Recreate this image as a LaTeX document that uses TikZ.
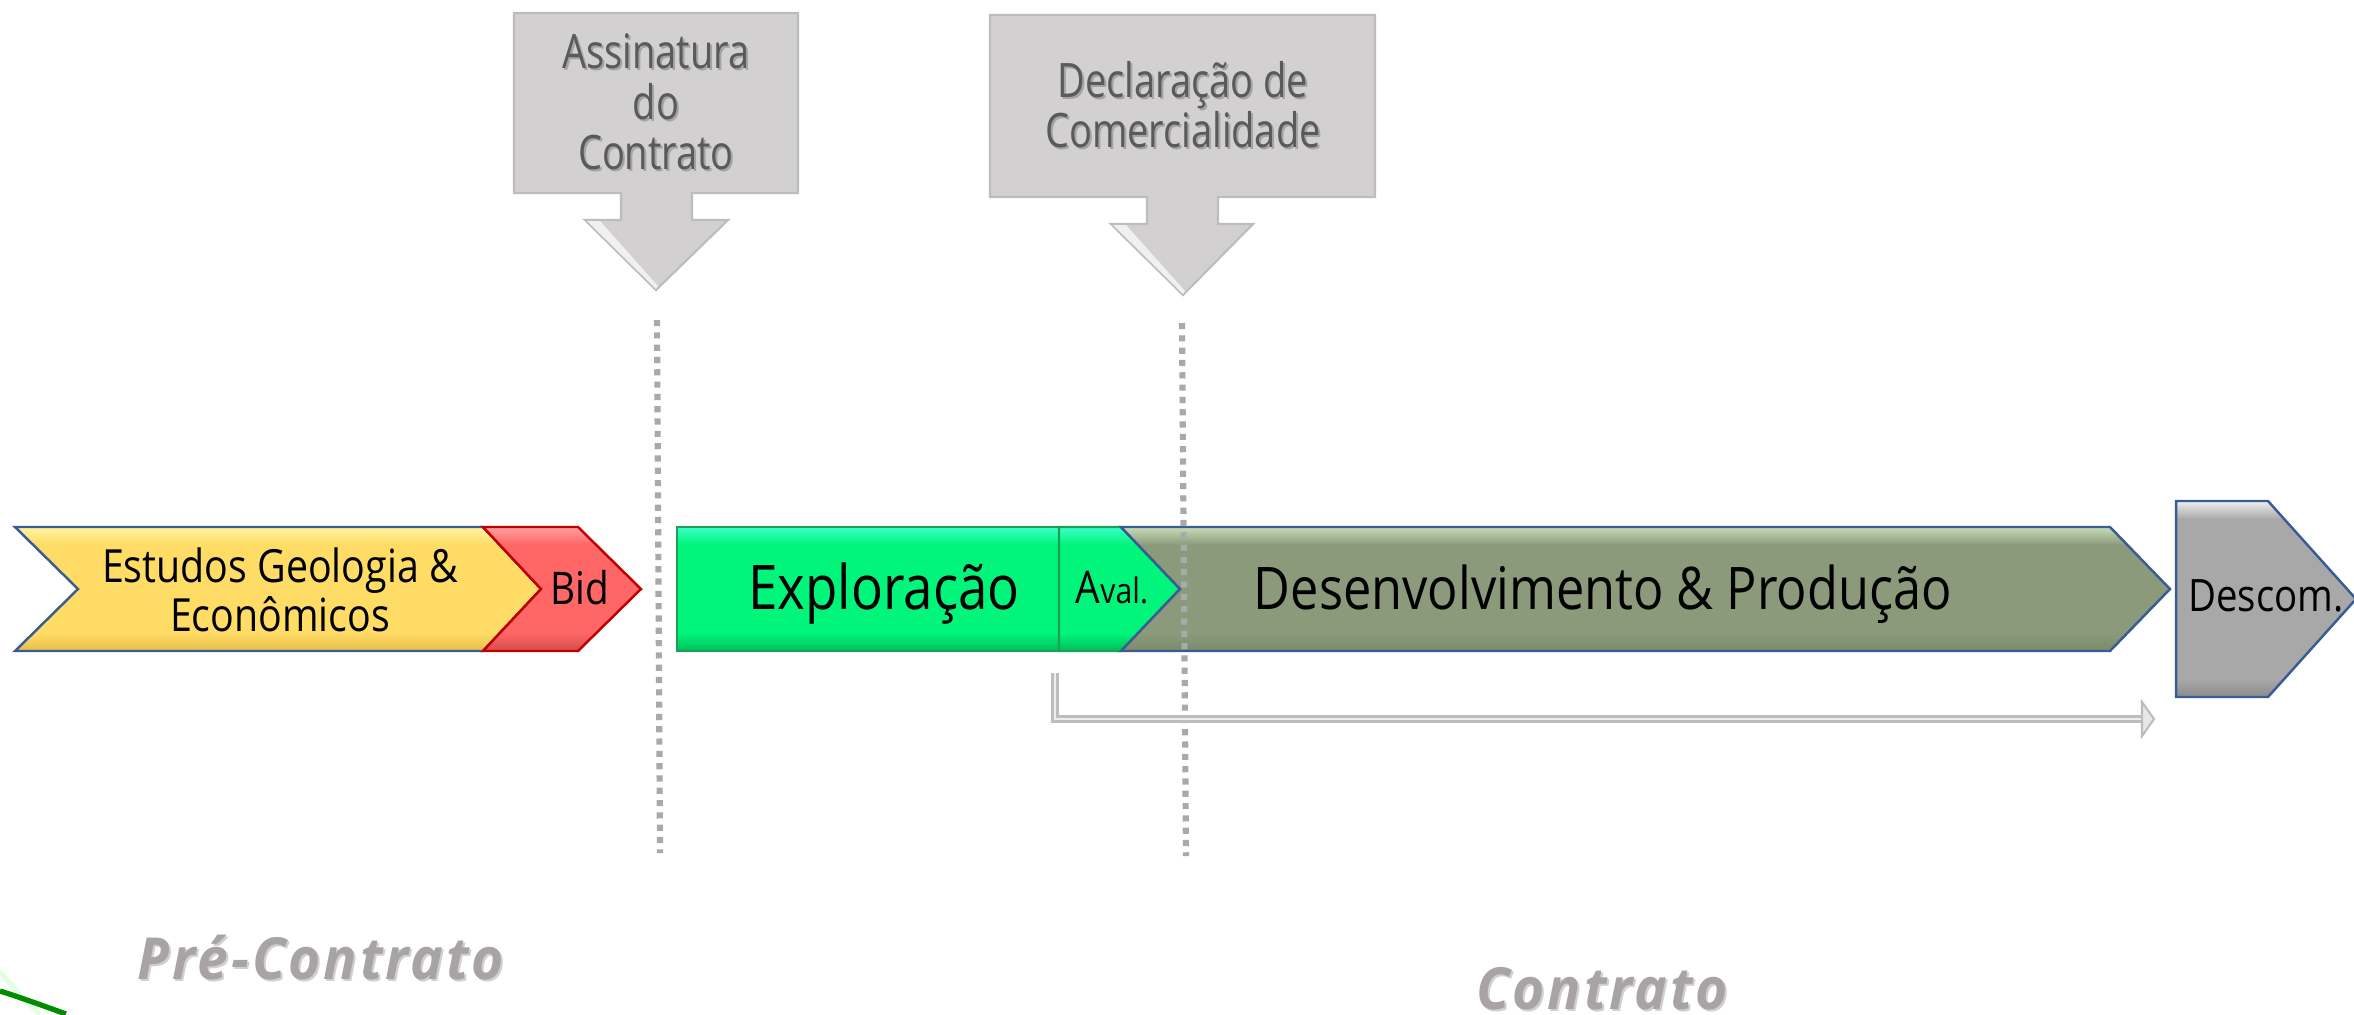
\documentclass[tikz,border=0pt]{standalone}
\usepackage{fontspec}
\setmainfont{Open Sans}
\newfontfamily\sg[FakeStretch=0.86]{Open Sans}
\newfontfamily\sgc[FakeStretch=0.8]{Open Sans}
\newfontfamily\lbl[LetterSpace=5,FakeStretch=0.95]{Open Sans}
\definecolor{yelM}{HTML}{FFDC66}
\definecolor{yelL}{HTML}{FFF3A0}
\definecolor{yelD}{HTML}{E6BE48}
\definecolor{redM}{HTML}{FF6666}
\definecolor{redL}{HTML}{FFA0A0}
\definecolor{redD}{HTML}{D64C4C}
\definecolor{redB}{HTML}{C00000}
\definecolor{grnM}{HTML}{00F57A}
\definecolor{grnL}{HTML}{3DFFC8}
\definecolor{grnD}{HTML}{00BF5C}
\definecolor{grnB}{HTML}{1F9E55}
\definecolor{olvM}{HTML}{8A9A7A}
\definecolor{olvL}{HTML}{C8DCB8}
\definecolor{olvD}{HTML}{7A8A6A}
\definecolor{bluB}{HTML}{3A5C94}
\definecolor{gryM}{HTML}{A8A8A8}
\definecolor{gryL}{HTML}{EEEEEE}
\definecolor{gryD}{HTML}{8C8C8C}
\definecolor{calF}{HTML}{D2D0D0}
\definecolor{calB}{HTML}{BDBDBD}
\definecolor{calT}{HTML}{5A5A5A}
\definecolor{calS}{HTML}{A4A4A4}
\definecolor{dotC}{HTML}{A9A9A9}
\definecolor{labT}{HTML}{A8A4A4}
\definecolor{labS}{HTML}{D0D0D0}
\newcommand\bevelpoly[7]{%
  \begin{scope}
    \clip #1;
    \fill[#2] #1;
    \shade[top color=#3,bottom color=#2] (0,#6) rectangle (2354,#6+18);
    \shade[top color=#2,bottom color=#4] (0,#7-18) rectangle (2354,#7);
  \end{scope}
  \draw[#5,line width=0.7pt,line join=miter] #1;
}
\tikzset{
  bandtxt/.style={inner sep=0pt,anchor=base,text=black},
  calltxt/.style={inner sep=0pt,anchor=base,text=calT,font=\sgc\fontsize{13.5}{16}\selectfont},
  callshadow/.style={inner sep=0pt,anchor=base,text=calS,font=\sgc\fontsize{13.5}{16}\selectfont},
  callout/.style={fill=calF,draw=calB,line width=0.6pt,line join=miter},
  dotline/.style={draw=dotC,line width=1.75pt,dash pattern=on 1.75pt off 1.75pt},
  labtxt/.style={inner sep=0pt,anchor=base,text=labT,font=\lbl\bfseries\itshape\fontsize{16.5}{19}\selectfont},
  labshadow/.style={inner sep=0pt,anchor=base,text=labS,font=\lbl\bfseries\itshape\fontsize{16.5}{19}\selectfont},
  bracket/.style={draw=calB,line width=0.75pt,double=gryL,double distance=0.6pt},
}
\begin{document}
\begin{tikzpicture}[x=0.01cm,y=-0.01cm]
\useasboundingbox (0,0) rectangle (2354,1014);
\fill[white] (0,0) rectangle (2354,1014);

% logo fragment
\draw[green!12!white,line width=1.4pt] (0,972) .. controls (14,988) and (26,1002) .. (40,1014);
\draw[green!55!black,line width=1.5pt] (0,991) .. controls (22,998) and (44,1006) .. (66,1014);

% callouts
\path[callout] (514,13) -- (798,13) -- (798,193) -- (692,193) -- (692,220) -- (728,220) -- (656,290) -- (585,220) -- (621,220) -- (621,193) -- (514,193) -- cycle;
\path[callout] (990,15) -- (1375,15) -- (1375,197) -- (1218,197) -- (1218,224) -- (1253,224) -- (1183,295) -- (1111,224) -- (1147,224) -- (1147,197) -- (990,197) -- cycle;
\fill[white,opacity=0.7] (587,221) -- (600,221) -- (658,286) -- (656,289) -- cycle;
\fill[white,opacity=0.7] (1113,225) -- (1126,225) -- (1185,291) -- (1183,294) -- cycle;

\foreach \s/\y/\t in {a/68/Assinatura, b/119/do, c/169/Contrato}{
  \node[callshadow] at (658,\y+2) {\t};
  \node[calltxt] (c1\s) at (656,\y) {\t};
}
\foreach \s/\y/\t in {a/97/Declaração de, b/147/Comercialidade}{
  \node[callshadow] at (1185,\y+2) {\t};
  \node[calltxt] (c2\s) at (1183,\y) {\t};
}

% band shapes
\bevelpoly{(15,527) -- (483,527) -- (541,589) -- (483,651) -- (15,651) -- (78,589) -- cycle}{yelM}{yelL}{yelD}{bluB}{527}{651}
\bevelpoly{(483,527) -- (578,527) -- (641,589) -- (578,651) -- (483,651) -- (541,589) -- cycle}{redM}{redL}{redD}{redB}{527}{651}
\bevelpoly{(677,527) -- (1059,527) -- (1059,651) -- (677,651) -- cycle}{grnM}{grnL}{grnD}{grnB}{527}{651}
\bevelpoly{(1059,527) -- (1121,527) -- (1180,589) -- (1121,651) -- (1059,651) -- cycle}{grnM}{grnL}{grnD}{grnB}{527}{651}
\bevelpoly{(1121,527) -- (2110,527) -- (2170,589) -- (2110,651) -- (1121,651) -- (1180,589) -- cycle}{olvM}{olvL}{olvD}{bluB}{527}{651}
\bevelpoly{(2176,501) -- (2268,501) -- (2356,599) -- (2268,697) -- (2176,697) -- cycle}{gryM}{gryL}{gryD}{bluB}{501}{697}

% band texts
\node[bandtxt,font=\sg\fontsize{13}{15}\selectfont] (est1) at (280,582) {Estudos Geologia \&};
\node[bandtxt,font=\sg\fontsize{13}{15}\selectfont] (est2) at (280,631) {Econômicos};
\node[bandtxt,font=\sg\fontsize{12.8}{15}\selectfont] (bid) at (580,604) {Bid};
\node[bandtxt,font=\sg\fontsize{17.5}{20}\selectfont] (expl) at (884,609) {Exploração};
\node[bandtxt,font=\sg] (aval) at (1112,603) {\fontsize{12.8}{14}\selectfont A\fontsize{10}{12}\selectfont val.};
\node[bandtxt,font=\sg\fontsize{16.7}{20}\selectfont] (dev) at (1603,609) {Desenvolvimento \& Produção};
\node[bandtxt,font=\sg\fontsize{12.7}{14}\selectfont] (desc) at (2266,611) {Descom.};

% dotted milestone lines
\coordinate (d1a) at (657,320); \coordinate (d1b) at (660,853);
\coordinate (d2a) at (1182,323); \coordinate (d2b) at (1186,856);
\draw[dotline] (d1a) -- (d1b);
\draw[dotline] (d2a) -- (d2b);

% bracket arrow
\coordinate (b0) at (1055,673);
\coordinate (b2) at (2142,719);
\coordinate (bt) at (2154,719);
\draw[bracket] (b0) |- (b2);
\filldraw[fill=gryL!85!calB,draw=calB,line width=0.6pt,line join=miter] ([shift={(0,-17)}]b2) -- (bt) -- ([shift={(0,17)}]b2) -- cycle;

% bottom labels
\node[labshadow] at (323,981) {Pré-Contrato};
\node[labtxt] (pre) at (321,979) {Pré-Contrato};
\node[labshadow] at (1604,1011) {Contrato};
\node[labtxt] (con) at (1602,1009) {Contrato};
\end{tikzpicture}
\end{document}
